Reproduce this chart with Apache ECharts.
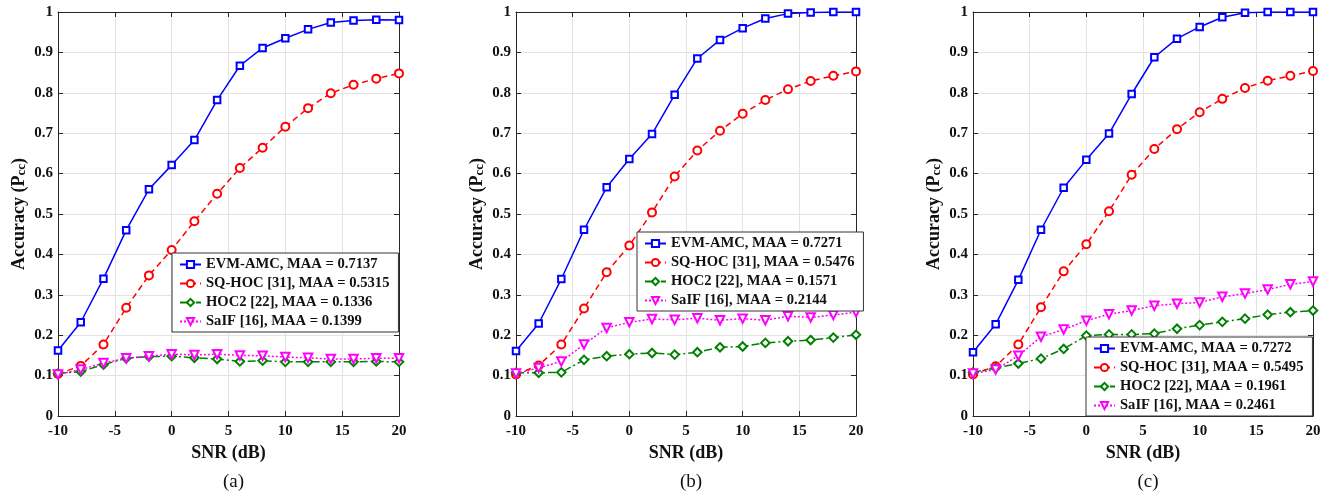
<!DOCTYPE html>
<html><head><meta charset="utf-8">
<script src="https://cdn.jsdelivr.net/npm/echarts@6/dist/echarts.min.js"></script>
<style>html,body{margin:0;padding:0;background:#fff}#c{width:1332px;height:496px}</style>
</head><body><div id="c"></div>
<script>
const SNR = [-10,-8,-6,-4,-2,0,2,4,6,8,10,12,14,16,18,20];
const xTicks = [-10,-5,0,5,10,15,20];
const captions = ['(a)','(b)','(c)'];
const methods = ['EVM-AMC','SQ-HOC [31]','HOC2 [22]','SaIF [16]'];
const maaA = ['0.7137','0.5315','0.1336','0.1399'];
const maaB = ['0.7271','0.5476','0.1571','0.2144'];
const maaC = ['0.7272','0.5495','0.1961','0.2461'];

const evmA  = [0.162,0.232,0.340,0.460,0.561,0.621,0.683,0.782,0.867,0.911,0.935,0.957,0.974,0.979,0.981,0.980];
const sqA   = [0.104,0.124,0.177,0.268,0.348,0.411,0.482,0.550,0.614,0.664,0.716,0.762,0.799,0.820,0.835,0.848];
const hocA  = [0.105,0.110,0.127,0.143,0.147,0.148,0.144,0.141,0.135,0.137,0.134,0.134,0.134,0.134,0.135,0.134];
const saifA = [0.103,0.115,0.131,0.143,0.148,0.153,0.151,0.153,0.150,0.149,0.146,0.144,0.141,0.141,0.143,0.143];

const evmB  = [0.161,0.229,0.339,0.461,0.566,0.636,0.698,0.795,0.885,0.931,0.960,0.984,0.996,0.999,1.000,1.000];
const sqB   = [0.103,0.125,0.177,0.266,0.356,0.422,0.504,0.593,0.657,0.706,0.748,0.782,0.809,0.829,0.842,0.853];
const hocB  = [0.107,0.107,0.108,0.139,0.148,0.153,0.156,0.152,0.158,0.170,0.172,0.181,0.185,0.188,0.194,0.201];
const saifB = [0.105,0.119,0.135,0.177,0.218,0.232,0.240,0.238,0.242,0.237,0.241,0.237,0.247,0.244,0.250,0.257];

const evmC  = [0.158,0.227,0.337,0.461,0.565,0.634,0.699,0.797,0.888,0.934,0.963,0.987,0.998,1.000,1.000,1.000];
const sqC   = [0.103,0.123,0.177,0.269,0.358,0.425,0.507,0.597,0.661,0.710,0.752,0.785,0.812,0.830,0.842,0.854];
const hocC  = [0.108,0.119,0.130,0.142,0.166,0.199,0.202,0.202,0.204,0.216,0.225,0.233,0.241,0.251,0.257,0.261];
const saifC = [0.105,0.115,0.149,0.196,0.214,0.236,0.252,0.261,0.273,0.278,0.281,0.295,0.303,0.313,0.326,0.333];

const panels = [
  {data:[evmA,sqA,hocA,saifA], maa:maaA, grid:{left:58,width:341}, legend:{left:172,top:253}},
  {data:[evmB,sqB,hocB,saifB], maa:maaB, grid:{left:516,width:340}, legend:{left:637,top:232}},
  {data:[evmC,sqC,hocC,saifC], maa:maaC, grid:{left:973,width:340}, legend:{left:1086,top:337}}
];
const styles = [
  {color:'#0000ff', symbol:'emptyRect', size:6.5, rot:0, type:'solid'},
  {color:'#ff0000', symbol:'emptyCircle', size:8, rot:0, type:[6,4]},
  {color:'#008000', symbol:'emptyDiamond', size:8.5, rot:0, type:[8,3,2,3]},
  {color:'#ff00ff', symbol:'emptyTriangle', size:8.5, rot:180, type:[2,2]}
];
const FONT = 'Liberation Serif';
const AX = '#262626';

const grids=[], xAxes=[], yAxes=[], series=[], legends=[], titles=[];
panels.forEach((p,i)=>{
  grids.push({left:p.grid.left, width:p.grid.width, top:12, height:404});
  const xi = xAxes.length, yi = yAxes.length;
  xAxes.push({type:'value', gridIndex:i, min:-10, max:20, interval:5, position:'bottom',
    axisLine:{onZero:false, lineStyle:{color:AX,width:1}},
    axisTick:{inside:true, length:5, lineStyle:{color:AX}},
    axisLabel:{color:'#111', fontFamily:FONT, fontWeight:'bold', fontSize:15, margin:8},
    splitLine:{show:true, lineStyle:{color:'#e3e3e3', width:1}},
    name:'SNR (dB)', nameLocation:'middle', nameGap:27,
    nameTextStyle:{color:'#111', fontFamily:FONT, fontWeight:'bold', fontSize:18}});
  xAxes.push({type:'value', gridIndex:i, min:-10, max:20, interval:5, position:'top',
    axisLine:{onZero:false, lineStyle:{color:AX,width:1}},
    axisTick:{inside:true, length:5, lineStyle:{color:AX}},
    axisLabel:{show:false}, splitLine:{show:false}});
  yAxes.push({type:'value', gridIndex:i, min:0, max:1, interval:0.1, position:'left',
    axisLine:{show:true, onZero:false, lineStyle:{color:AX,width:1}},
    axisTick:{show:true, inside:true, length:5, lineStyle:{color:AX}},
    axisLabel:{color:'#111', fontFamily:FONT, fontWeight:'bold', fontSize:15, margin:5},
    splitLine:{show:true, lineStyle:{color:'#e3e3e3', width:1}},
    name:'{a|Accuracy (P}{b|cc}{a|)}', nameLocation:'middle', nameRotate:90, nameGap:30,
    nameTextStyle:{color:'#111', fontFamily:FONT, fontWeight:'bold', fontSize:18,
      rich:{a:{fontFamily:FONT, fontWeight:'bold', fontSize:18, color:'#111', lineHeight:18, verticalAlign:'top'},
            b:{fontFamily:FONT, fontWeight:'bold', fontSize:13, color:'#111', lineHeight:13, padding:[11,0,0,0], verticalAlign:'bottom'}}}});
  yAxes.push({type:'value', gridIndex:i, min:0, max:1, interval:0.1, position:'right',
    axisLine:{show:true, onZero:false, lineStyle:{color:AX,width:1}},
    axisTick:{show:true, inside:true, length:5, lineStyle:{color:AX}},
    axisLabel:{show:false}, splitLine:{show:false}});
  const names = [];
  p.data.forEach((arr,k)=>{
    const s = styles[k];
    const nm = methods[k] + ', MAA = ' + p.maa[k];
    names.push(nm);
    series.push({type:'line', name:nm, xAxisIndex:xi, yAxisIndex:yi,
      data: SNR.map((x,j)=>[x,arr[j]]),
      symbol:s.symbol, symbolSize:s.size, symbolRotate:s.rot, showAllSymbol:true,
      lineStyle:{color:s.color, width:1.5, type:s.type},
      itemStyle:{color:s.color, borderColor:s.color, borderWidth:1.3},
      animation:false, z:2+k});
  });
  legends.push({data:names, orient:'vertical', left:p.legend.left, top:p.legend.top,
    backgroundColor:'#fff', borderColor:'#333', borderWidth:1, padding:[4,9,3,7],
    itemWidth:21, itemHeight:9, itemGap:4, z:10, selectedMode:false,
    textStyle:{color:'#111', fontFamily:FONT, fontWeight:'bold', fontSize:14.6}});
  titles.push({text:captions[i], left:p.grid.left + p.grid.width/2, top:468, textAlign:'center',
    textStyle:{color:'#111', fontFamily:FONT, fontWeight:'normal', fontSize:19}});
});

const chart = echarts.init(document.getElementById('c'), null, {renderer:'canvas'});
chart.setOption({animation:false, backgroundColor:'#fff', title:titles, grid:grids,
  xAxis:xAxes, yAxis:yAxes, legend:legends, series:series});
</script></body></html>
